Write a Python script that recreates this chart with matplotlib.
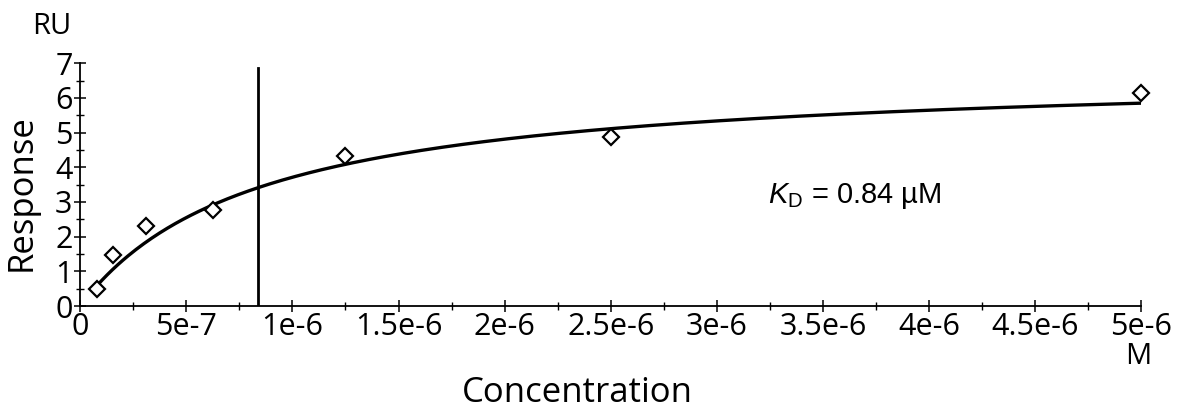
import numpy as np
import matplotlib
matplotlib.use("Agg")
import matplotlib.pyplot as plt
from matplotlib.ticker import MultipleLocator

plt.rcParams['font.family'] = ['Open Sans', 'DejaVu Sans']
plt.rcParams['mathtext.fontset'] = 'custom'
plt.rcParams['mathtext.rm'] = 'Liberation Sans'
plt.rcParams['mathtext.it'] = 'Liberation Sans:italic'

# measured binding responses (two-fold dilution series)
conc = [7.8125e-8, 1.5625e-7, 3.125e-7, 6.25e-7, 1.25e-6, 2.5e-6, 5e-6]
response = [0.49, 1.47, 2.30, 2.77, 4.32, 4.87, 6.14]

# steady-state affinity fit
kd = 0.84e-6
rmax = 6.83

xticks = [0, 5e-7, 1e-6, 1.5e-6, 2e-6, 2.5e-6, 3e-6, 3.5e-6, 4e-6, 4.5e-6, 5e-6]
xticklabels = ['0', '5e-7', '1e-6', '1.5e-6', '2e-6', '2.5e-6', '3e-6',
               '3.5e-6', '4e-6', '4.5e-6', '5e-6']
yticks = [0, 1, 2, 3, 4, 5, 6, 7]

fig = plt.figure(figsize=(11.79, 4.13), dpi=100)
ax = fig.add_axes([0.068, 0.259, 0.900, 0.588])

c_fit = np.linspace(conc[0], conc[-1], 400)
ax.plot(c_fit, rmax * c_fit / (kd + c_fit), color='black', lw=2.4, zorder=3)
ax.plot(conc, response, linestyle='none', marker='D', markersize=8,
        markerfacecolor='white', markeredgecolor='black', markeredgewidth=1.6,
        clip_on=False, zorder=4)
ax.plot([kd, kd], [0, 6.86], color='black', lw=2, zorder=2)

ax.set_xlim(0, 5e-6)
ax.set_ylim(0, 7)
for s in ['top', 'right']:
    ax.spines[s].set_visible(False)
for s in ['left', 'bottom']:
    ax.spines[s].set_linewidth(1.3)

ax.set_xticks(xticks)
ax.set_xticklabels(xticklabels)
ax.set_yticks(yticks)
ax.set_yticklabels([str(v) for v in yticks])
ax.xaxis.set_minor_locator(MultipleLocator(2.5e-7))
ax.yaxis.set_minor_locator(MultipleLocator(0.5))
ax.tick_params(which='major', direction='inout', length=9, width=1.1,
               labelsize=22, pad=0)
ax.tick_params(axis='y', which='major', pad=1)
ax.tick_params(which='minor', direction='inout', length=6, width=1.0)

fig.text(577 / 1179, 1 - 393 / 413, 'Concentration', fontsize=25,
         ha='center', va='center')
fig.text(22 / 1179, 1 - 193 / 413, 'Response', fontsize=25, rotation=90,
         ha='center', va='center')
fig.text(52 / 1179, 1 - 27 / 413, 'RU', fontsize=21, ha='center', va='center')
fig.text(1138 / 1179, 1 - 357 / 413, 'M', fontsize=21, ha='center', va='center')
ax.text(3.24e-6, 2.97, r'$K_\mathrm{D}$ = 0.84 µM', fontsize=21,
        family='Liberation Sans', ha='left', va='baseline')

fig.savefig('out.png', dpi=100, facecolor='white')
